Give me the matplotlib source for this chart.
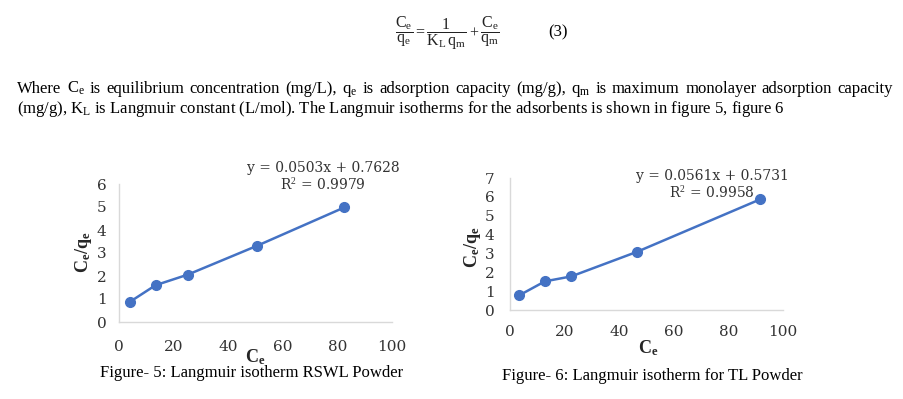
import matplotlib
matplotlib.use("Agg")
import matplotlib.pyplot as plt

plt.rcParams['mathtext.fontset'] = 'custom'
plt.rcParams['mathtext.rm'] = 'Liberation Serif'
plt.rcParams['mathtext.it'] = 'Liberation Serif:italic'
plt.rcParams['mathtext.bf'] = 'Liberation Serif:bold'

# ---- data ----
rswl_ce = [3.9, 13.4, 25.2, 50.5, 82.5]
rswl_ceqe = [0.87, 1.60, 2.06, 3.31, 4.98]
tl_ce = [3.4, 12.8, 22.4, 46.6, 91.5]
tl_ceqe = [0.78, 1.52, 1.78, 3.09, 5.86]
rswl_eq = ["y = 0.0503x + 0.7628", "R$^2$ = 0.9979"]
tl_eq = ["y = 0.0561x + 0.5731", "R$^2$ = 0.9958"]
caption5 = "Figure- 5: Langmuir isotherm RSWL Powder"
caption6 = "Figure- 6: Langmuir isotherm for TL Powder"
x_ticks = [0, 20, 40, 60, 80, 100]
y_ticks1 = [0, 1, 2, 3, 4, 5, 6]
y_ticks2 = [0, 1, 2, 3, 4, 5, 6, 7]

W, H = 904, 399
fig = plt.figure(figsize=(W / 100, H / 100), dpi=100)
fig.patch.set_facecolor('white')


def fx(px):
    return px / W


def fy(py):
    return 1 - py / H


BODY = dict(family='Liberation Serif', fontsize=12, color='black')

# ---- equation ----
fig.text(fx(447), fy(33),
         r'$\dfrac{\mathrm{C_e}}{\mathrm{q_e}} = \dfrac{1}{\mathrm{K_L\,q_m}} + \dfrac{\mathrm{C_e}}{\mathrm{q_m}}$',
         ha='center', va='center', fontsize=11.5, color='#222222')
fig.text(fx(558), fy(32), '(3)', ha='center', va='center', **BODY)

# ---- paragraph, first line justified ----
words1 = ["Where", r"C$_\mathrm{e}$", "is", "equilibrium", "concentration", "(mg/L),",
          r"q$_\mathrm{e}$", "is", "adsorption", "capacity", "(mg/g),", r"q$_\mathrm{m}$",
          "is", "maximum", "monolayer", "adsorption", "capacity"]
line2 = r"(mg/g), K$_\mathrm{L}$ is Langmuir constant (L/mol). The Langmuir isotherms for the adsorbents is shown in figure 5, figure 6"

renderer = fig.canvas.get_renderer()
x0, x1 = 17, 893
texts = [fig.text(0, fy(93), w, ha='left', va='baseline', **BODY) for w in words1]
widths = [t.get_window_extent(renderer).width for t in texts]
gap = (x1 - x0 - sum(widths)) / (len(words1) - 1)
xp = x0
for t, wd in zip(texts, widths):
    t.set_x(fx(xp))
    xp += wd + gap
fig.text(fx(x0), fy(113), line2, ha='left', va='baseline', **BODY)

# ---- charts ----
BLUE = '#4472C4'
TICKC = '#333333'
SPINE = '#D9D9D9'
CF = 'DejaVu Serif'


def make_chart(rect, xs, ys, yticks, ylim, eq, eqpos, ylabpos, xlabpos, cap, cappos, xpad, ypad):
    ax = fig.add_axes(rect)
    ax.plot(xs, ys, color=BLUE, lw=1.8, marker='o', ms=7, mfc=BLUE, mec=BLUE, zorder=3)
    ax.set_xlim(0, 100)
    ax.set_ylim(*ylim)
    ax.set_xticks(x_ticks)
    ax.set_yticks(yticks)
    for s in ['top', 'right']:
        ax.spines[s].set_visible(False)
    for s in ['left', 'bottom']:
        ax.spines[s].set_color(SPINE)
        ax.spines[s].set_linewidth(1.0)
    ax.tick_params(axis='x', length=0, pad=xpad, labelsize=11, labelcolor=TICKC)
    ax.tick_params(axis='y', length=0, pad=ypad, labelsize=11, labelcolor=TICKC)
    for lab in ax.get_xticklabels() + ax.get_yticklabels():
        lab.set_family(CF)
    ax.patch.set_alpha(0)
    fig.text(fx(eqpos[0]), fy(eqpos[1]), eq[0], ha='center', va='center',
             family=CF, fontsize=10, color=TICKC)
    fig.text(fx(eqpos[0]), fy(eqpos[1] + 17), eq[1], ha='center', va='center',
             family=CF, fontsize=10, color=TICKC)
    fig.text(fx(ylabpos[0]), fy(ylabpos[1]), r'$\mathbf{C_e/q_e}$', rotation=90,
             ha='center', va='center', fontsize=13, color='#262626')
    fig.text(fx(xlabpos[0]), fy(xlabpos[1]), r'$\mathbf{C_e}$',
             ha='center', va='center', fontsize=13, color='#262626')
    fig.text(fx(cappos[0]), fy(cappos[1]), cap, ha='center', va='center', **BODY)
    return ax


make_chart([fx(119), fy(322), (392 - 119) / W, (322 - 184) / H],
           rswl_ce, rswl_ceqe, y_ticks1, (0, 6), rswl_eq, (323, 168),
           (83, 252), (255, 357), caption5, (252, 373), 13, 9)
make_chart([fx(510), fy(310), (783 - 510) / W, (310 - 178) / H],
           tl_ce, tl_ceqe, y_ticks2, (0, 7), tl_eq, (712, 176),
           (473, 247), (648, 348), caption6, (652, 376), 11, 11)

fig.savefig('out.png', dpi=100, facecolor='white')
